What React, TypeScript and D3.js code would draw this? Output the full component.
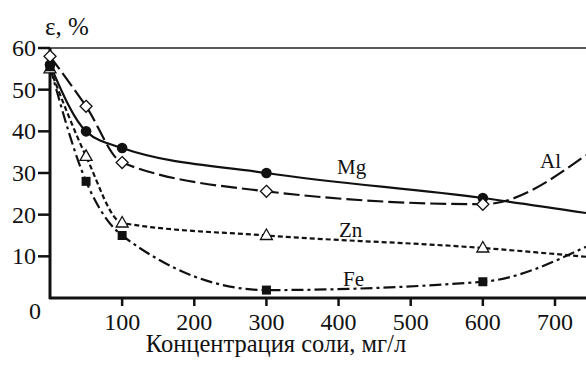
import React from "react";
import * as d3 from "d3";

// concentrations where measurements were taken, mg/l
const concentrations = [0, 50, 100, 300, 600];
// value where each curve leaves the plot at the right edge
const tailConcentration = 743;

const mgValues = [56, 40, 36, 30, 24];
const mgTail = 20.4;
const alValues = [58, 46, 32.5, 25.6, 22.5];
const alTail = 34.3;
const znValues = [55, 34, 18, 15, 12];
const znTail = 9.9;
const feValues = [55.5, 28, 15, 1.9, 3.9];
const feTail = 12.3;

const xTicks = [100, 200, 300, 400, 500, 600, 700];
const yTicks = [10, 20, 30, 40, 50, 60];

const W = 586;
const H = 367;
const left = 50;
const right = 586;
const top = 48;
const bottom = 298;
const serif = "Liberation Serif, Times New Roman, DejaVu Serif, serif";

type Series = {
  name: string;
  values: number[];
  tail: number;
  dash: string;
  marker: "circle" | "diamond" | "triangle" | "square";
  label: [number, number];
};

const series: Series[] = [
  { name: "Mg", values: mgValues, tail: mgTail, dash: "none", marker: "circle", label: [337, 174] },
  { name: "Al", values: alValues, tail: alTail, dash: "16 5", marker: "diamond", label: [540, 168] },
  { name: "Zn", values: znValues, tail: znTail, dash: "5 3", marker: "triangle", label: [339, 237] },
  { name: "Fe", values: feValues, tail: feTail, dash: "12 4 3 4", marker: "square", label: [343, 286] },
];

const txt = (size: number): React.CSSProperties => ({ fontFamily: serif, fontSize: size, fill: "#111" });

export default function App() {
  const x = d3.scaleLinear().domain([0, tailConcentration]).range([left, right]);
  const y = d3.scaleLinear().domain([0, 60]).range([bottom, top]);

  const line = d3
    .line<[number, number]>()
    .x((d) => x(d[0]))
    .y((d) => y(d[1]))
    .curve(d3.curveMonotoneX);

  const marker = (kind: Series["marker"], cx: number, cy: number, key: string) => {
    if (kind === "circle")
      return <circle key={key} cx={cx} cy={cy} r={5.3} fill="#111" />;
    if (kind === "square")
      return <rect key={key} x={cx - 4.5} y={cy - 4.5} width={9} height={9} fill="#111" />;
    if (kind === "diamond")
      return (
        <path
          key={key}
          d={`M${cx},${cy - 6}L${cx + 6},${cy}L${cx},${cy + 6}L${cx - 6},${cy}Z`}
          fill="#fff"
          stroke="#111"
          strokeWidth={1.3}
        />
      );
    return (
      <path
        key={key}
        d={`M${cx},${cy - 6.5}L${cx + 6},${cy + 4}L${cx - 6},${cy + 4}Z`}
        fill="#fff"
        stroke="#111"
        strokeWidth={1.3}
      />
    );
  };

  return (
    <svg width={W} height={H} style={{ position: "absolute", left: 0, top: 0, background: "#fff" }}>
      <defs>
        <clipPath id="plot">
          <rect x={left} y={0} width={right - left} height={bottom} />
        </clipPath>
      </defs>

      {/* frame */}
      <line x1={left} x2={right} y1={y(60)} y2={y(60)} stroke="#222" strokeWidth={1.5} />
      <line x1={left} x2={left} y1={y(60)} y2={bottom + 1} stroke="#111" strokeWidth={3} />
      <line x1={left - 1} x2={right} y1={bottom} y2={bottom} stroke="#111" strokeWidth={3} />

      {/* y axis */}
      {yTicks.map((t) => (
        <g key={"y" + t}>
          <line x1={left - 12} x2={left} y1={y(t)} y2={y(t)} stroke="#111" strokeWidth={2.5} />
          <text x={left - 14} y={y(t) + 8} textAnchor="end" style={txt(24)}>
            {t}
          </text>
        </g>
      ))}
      <text x={35} y={319} textAnchor="middle" style={txt(24)}>
        0
      </text>
      <text x={45} y={35} style={txt(25)}>
        ε, %
      </text>

      {/* x axis */}
      {xTicks.map((t) => (
        <g key={"x" + t}>
          <line x1={x(t)} x2={x(t)} y1={bottom} y2={bottom + 8} stroke="#111" strokeWidth={2.5} />
          <text x={x(t)} y={330} textAnchor="middle" style={txt(24)}>
            {t}
          </text>
        </g>
      ))}
      <text x={276} y={352} textAnchor="middle" style={txt(24.5)}>
        Концентрация соли, мг/л
      </text>

      {/* curves */}
      <g clipPath="url(#plot)">
        {series.map((s) => {
          const pts: [number, number][] = concentrations.map((c, i) => [c, s.values[i]]);
          pts.push([tailConcentration, s.tail]);
          return (
            <path
              key={s.name}
              d={line(pts) || ""}
              fill="none"
              stroke="#111"
              strokeWidth={2.2}
              strokeDasharray={s.dash}
            />
          );
        })}
      </g>

      {/* markers */}
      {series.map((s) =>
        concentrations.map((c, i) => marker(s.marker, x(c), y(s.values[i]), s.name + c))
      )}

      {/* series labels */}
      {series.map((s) => (
        <text key={"l" + s.name} x={s.label[0]} y={s.label[1]} style={txt(21)}>
          {s.name}
        </text>
      ))}
    </svg>
  );
}
